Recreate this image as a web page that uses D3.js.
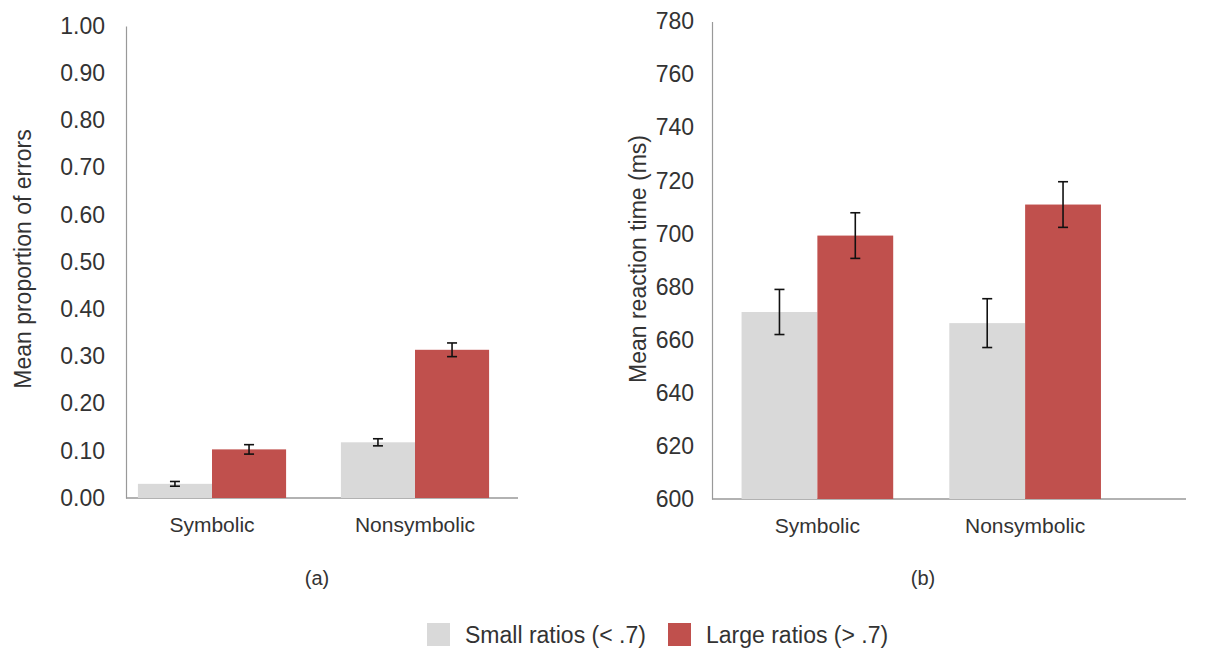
<!DOCTYPE html>
<html>
<head>
<meta charset="utf-8">
<script src="https://cdn.jsdelivr.net/npm/d3@7"></script>
<style>
  body { margin: 0; background: #fff; }
  svg text { font-family: "Liberation Sans", Arial, sans-serif; fill: #333; }
</style>
</head>
<body>
<svg id="chart"></svg>
<script>
// Data
const categories = ['Symbolic', 'Nonsymbolic'];
const seriesNames = ['Small ratios (< .7)', 'Large ratios (> .7)'];
const seriesColors = ['#d9d9d9', '#c0504d'];

// (a) mean proportion of errors
const errorSmall = [0.030, 0.118];
const errorSmallSE = [0.005, 0.0075];
const errorLarge = [0.103, 0.314];
const errorLargeSE = [0.010, 0.0145];
const errorTicks = [0, 0.1, 0.2, 0.3, 0.4, 0.5, 0.6, 0.7, 0.8, 0.9, 1.0];

// (b) mean reaction time (ms)
const rtSmall = [670.5, 666.3];
const rtSmallSE = [8.5, 9.2];
const rtLarge = [699.3, 711.0];
const rtLargeSE = [8.6, 8.6];
const rtTicks = [600, 620, 640, 660, 680, 700, 720, 740, 760, 780];

const svg = d3.select('#chart').attr('width', 1214).attr('height', 651);

function drawPanel(cfg) {
  const g = svg.append('g');

  const y = d3.scaleLinear().domain(cfg.domain).range([cfg.bottom, cfg.top]);
  const x0 = d3.scaleBand().domain(categories)
      .range(cfg.bandRange).paddingInner(0.27).paddingOuter(0.135);
  const x1 = d3.scaleBand().domain([0, 1]).range([0, x0.bandwidth()]);

  // y axis: line only, no tick marks
  const yAxis = d3.axisLeft(y).tickValues(cfg.ticks).tickSize(0).tickPadding(cfg.tickPad)
      .tickFormat(cfg.format);
  const yG = g.append('g').attr('transform', `translate(${cfg.axisX},0)`).call(yAxis);
  yG.select('.domain').attr('stroke', '#999').attr('stroke-width', 1.2);
  yG.selectAll('text').style('font-size', '23px').attr('fill', '#333');

  // baseline
  g.append('line')
      .attr('x1', cfg.axisX).attr('x2', cfg.axisRight)
      .attr('y1', y(cfg.domain[0])).attr('y2', y(cfg.domain[0]))
      .attr('stroke', '#999').attr('stroke-width', 1.5);

  const rows = categories.map((c, i) => ({
    cat: c,
    vals: [
      {s: 0, v: cfg.small[i], e: cfg.smallSE[i]},
      {s: 1, v: cfg.large[i], e: cfg.largeSE[i]}
    ]
  }));

  const groups = g.selectAll('.grp').data(rows).join('g')
      .attr('class', 'grp')
      .attr('transform', d => `translate(${x0(d.cat)},0)`);

  groups.selectAll('rect').data(d => d.vals).join('rect')
      .attr('x', d => x1(d.s))
      .attr('width', x1.bandwidth())
      .attr('y', d => y(d.v))
      .attr('height', d => y(cfg.domain[0]) - y(d.v))
      .attr('fill', d => seriesColors[d.s]);

  // error bars
  const capW = 5;
  const eb = groups.selectAll('.eb').data(d => d.vals).join('g').attr('class', 'eb')
      .attr('stroke', '#111').attr('stroke-width', 1.6);
  eb.append('line')
      .attr('x1', d => x1(d.s) + x1.bandwidth() / 2).attr('x2', d => x1(d.s) + x1.bandwidth() / 2)
      .attr('y1', d => y(d.v + d.e)).attr('y2', d => y(d.v - d.e));
  eb.append('line')
      .attr('x1', d => x1(d.s) + x1.bandwidth() / 2 - capW).attr('x2', d => x1(d.s) + x1.bandwidth() / 2 + capW)
      .attr('y1', d => y(d.v + d.e)).attr('y2', d => y(d.v + d.e));
  eb.append('line')
      .attr('x1', d => x1(d.s) + x1.bandwidth() / 2 - capW).attr('x2', d => x1(d.s) + x1.bandwidth() / 2 + capW)
      .attr('y1', d => y(d.v - d.e)).attr('y2', d => y(d.v - d.e));

  // category labels
  g.selectAll('.cat').data(categories).join('text')
      .attr('class', 'cat')
      .attr('x', d => x0(d) + x0.bandwidth() / 2)
      .attr('y', cfg.bottom + 34)
      .attr('text-anchor', 'middle')
      .style('font-size', '21px')
      .text(d => d);

  // y title
  g.append('text')
      .attr('transform', `translate(${cfg.titleX},${cfg.titleY}) rotate(-90)`)
      .attr('text-anchor', 'middle')
      .style('font-size', '23px')
      .text(cfg.title);

  // panel letter
  g.append('text')
      .attr('x', cfg.letterX).attr('y', 585)
      .attr('text-anchor', 'middle')
      .style('font-size', '20px')
      .text(cfg.letter);
}

drawPanel({
  domain: [0, 1], ticks: errorTicks, format: d3.format('.2f'),
  top: 26, bottom: 498, axisX: 126, axisRight: 518, tickPad: 21,
  bandRange: [110.5, 516.5],
  small: errorSmall, smallSE: errorSmallSE, large: errorLarge, largeSE: errorLargeSE,
  title: 'Mean proportion of errors', titleX: 31, titleY: 259,
  letter: '(a)', letterX: 317
});

drawPanel({
  domain: [600, 780], ticks: rtTicks, format: d3.format('d'),
  top: 21.5, bottom: 499, axisX: 712, axisRight: 1186, tickPad: 18,
  bandRange: [713.5, 1129],
  small: rtSmall, smallSE: rtSmallSE, large: rtLarge, largeSE: rtLargeSE,
  title: 'Mean reaction time (ms)', titleX: 646, titleY: 259,
  letter: '(b)', letterX: 923
});

// legend
const legend = svg.append('g').attr('transform', 'translate(427,623)');
const legendX = [0, 241];
legend.selectAll('rect').data(seriesNames).join('rect')
    .attr('x', (d, i) => legendX[i]).attr('y', 0)
    .attr('width', 23).attr('height', 23)
    .attr('fill', (d, i) => seriesColors[i]);
legend.selectAll('text').data(seriesNames).join('text')
    .attr('x', (d, i) => legendX[i] + 38).attr('y', 20)
    .style('font-size', '23px')
    .text(d => d);
</script>
</body>
</html>
